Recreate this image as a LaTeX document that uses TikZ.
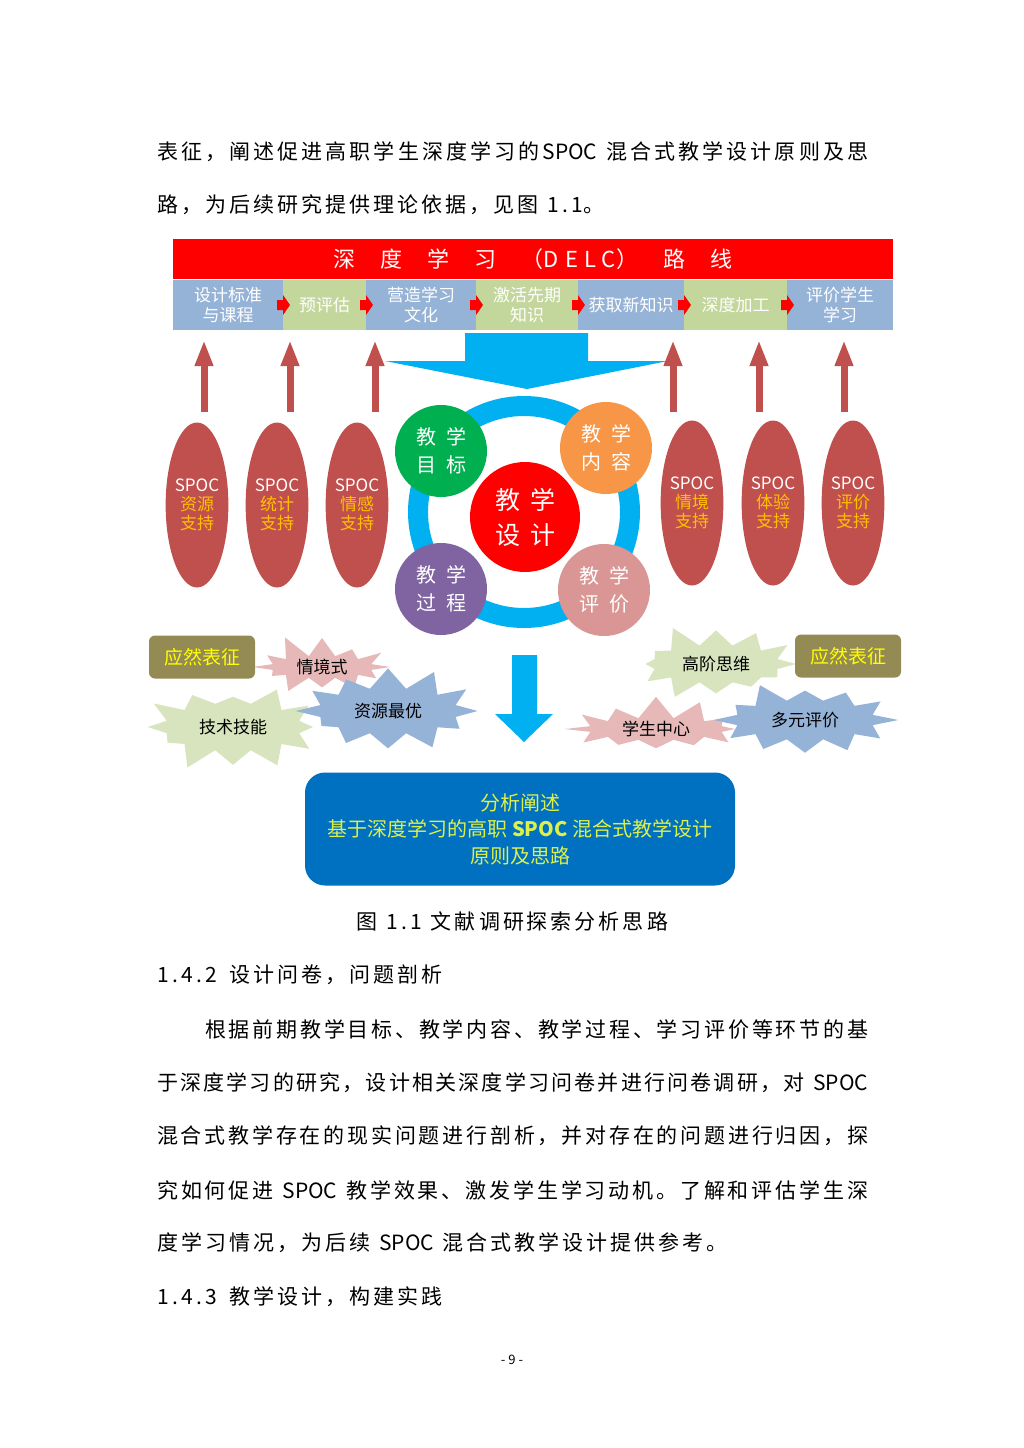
\documentclass[tikz,border=0pt]{standalone}
\usepackage{fontspec}
\setmainfont{Noto Sans CJK SC}
\usetikzlibrary{shapes.geometric,shapes.symbols,arrows.meta}
\makeatletter
\count@="4E00
\loop\ifnum\count@<"A000 \XeTeXcharclass\count@=1 \advance\count@ by 1 \repeat
\makeatother
\XeTeXcharclass"3001=3 \XeTeXcharclass"3002=3 \XeTeXcharclass"FF0C=3
\XeTeXcharclass"FF09=3 \XeTeXcharclass"FF08=2
\newskip\cjksp \cjksp=0pt
\XeTeXinterchartoks 1 1 = {\hskip\cjksp}
\XeTeXinterchartoks 1 2 = {\hskip\cjksp}
\XeTeXinterchartoks 1 3 = {\hskip\cjksp}
\XeTeXinterchartoks 3 1 = {\hskip\cjksp}
\XeTeXinterchartoks 1 0 = {\hskip\cjksp}
\XeTeXinterchartoks 0 1 = {\hskip\cjksp}
\XeTeXinterchartoks 0 3 = {\hskip\cjksp}
\XeTeXinterchartoks 3 0 = {\hskip\cjksp}
\definecolor{hdrred}{HTML}{FF0000}
\definecolor{stepblue}{HTML}{95B3D7}
\definecolor{stepgreen}{HTML}{C3D69B}
\definecolor{arrred}{HTML}{FF0000}
\definecolor{ellred}{HTML}{C0504D}
\definecolor{ellyel}{HTML}{FFC000}
\definecolor{ringblue}{HTML}{00B0F0}
\definecolor{cgreen}{HTML}{00B050}
\definecolor{corange}{HTML}{F79646}
\definecolor{cred}{HTML}{FF0000}
\definecolor{cpurple}{HTML}{8064A2}
\definecolor{cpink}{HTML}{D99694}
\definecolor{olivebox}{HTML}{948A54}
\definecolor{tagyel}{HTML}{FFFF00}
\definecolor{starpink}{HTML}{E6B9B8}
\definecolor{stargreen}{HTML}{D7E4BD}
\definecolor{starblue}{HTML}{95B3D7}
\definecolor{boxblue}{HTML}{0070C0}
\definecolor{boxtext}{HTML}{DDF04A}
\newcommand\bodyfont{\fontsize{21}{21}\selectfont\XeTeXinterchartokenstate=1 \cjksp=3pt plus 1fil minus 2pt\relax}
\newcommand\fsz[2]{\fontsize{#1}{#2}\selectfont}
\newcommand\jline[2]{\makebox[#1pt][s]{#2}}
\newcommand\gp{\hspace{9pt}}
\newcommand\hc[1]{\makebox[12pt]{#1}}
\begin{document}
\begin{tikzpicture}[x=1pt,y=-1pt,
  body/.style={anchor=west, inner sep=0pt, font=\bodyfont},
  stepbox/.style={minimum height=50pt, inner sep=0pt, text=white, font={\fsz{17}{20}}, align=center, anchor=west},
  uparr/.style={draw=ellred, line width=7pt, -{Triangle[width=17pt,length=26pt]}},
  spoc/.style={ellipse, fill=ellred, minimum width=60pt, minimum height=165pt, inner sep=0pt, align=center, text=white, font={\fsz{17}{19}}},
  cir/.style={circle, minimum size=92pt, inner sep=0pt, text=white, align=center, font={\fsz{20}{28}}},
  burst/.style={starburst, starburst points=12, starburst point height=24pt, inner sep=0pt, font={\fsz{17}{20}}, text=black},
  tagbox/.style={rounded corners=6pt, fill=olivebox, text=tagyel, minimum width=106pt, minimum height=43pt, inner sep=0pt, font={\fsz{19}{22}}}
]
\useasboundingbox (0,0) rectangle (1024,1448);
\fill[white] (0,0) rectangle (1024,1448);

% body text above
\node[body] (t1) at (157,152) {\jline{711}{表征，阐述促进高职学生深度学习的SPOC\gp 混合式教学设计原则及思}};
\node[body] (t2) at (157,205) {路，为后续研究提供理论依据，见图\gp\hc{1}\hc{.}\hc{1}。};

% header
\node[fill=hdrred, minimum width=720pt, minimum height=40pt, inner sep=0pt, text=white, font={\fsz{22}{22}}] (hd) at (533,259)
  {深\hspace{25pt}度\hspace{25pt}学\hspace{25pt}习\hspace{25pt}（D\hspace{6pt}E\hspace{6pt}L\hspace{6pt}C）\hspace{25pt}路\hspace{25pt}线};

% steps
\node[stepbox, fill=stepblue,  minimum width=110pt] (s1) at (173,305) {设计标准\\与课程};
\node[stepbox, fill=stepgreen, minimum width=83pt]  (s2) at (283,305) {预评估};
\node[stepbox, fill=stepblue,  minimum width=110pt] (s3) at (366,305) {营造学习\\文化};
\node[stepbox, fill=stepgreen, minimum width=102pt] (s4) at (476,305) {激活先期\\知识};
\node[stepbox, fill=stepblue,  minimum width=106pt] (s5) at (578,305) {获取新知识};
\node[stepbox, fill=stepgreen, minimum width=103pt] (s6) at (684,305) {深度加工};
\node[stepbox, fill=stepblue,  minimum width=106pt] (s7) at (787,305) {评价学生\\学习};
\foreach \xx in {283,366,476,578,684,787}
  \fill[arrred] (\xx-6,300) -- (\xx,300) -- (\xx,295) -- (\xx+7,305) -- (\xx,315) -- (\xx,310) -- (\xx-6,310) -- cycle;

% big blue arrow
\fill[ringblue] (465,333) -- (588,333) -- (588,361) -- (668,361) -- (527,389) -- (385,361) -- (465,361) -- cycle;

% ring and circles
\coordinate (rc) at (524,512);
\draw[ringblue, line width=20pt] (rc) circle (106pt);
\node[cir, fill=cgreen]  (goal) at (441,451) {教\hspace{10pt}学\\目\hspace{10pt}标};
\node[cir, fill=corange] (cont) at (606,448) {教\hspace{10pt}学\\内\hspace{10pt}容};
\node[cir, fill=cpurple] (proc) at (441,589) {教\hspace{10pt}学\\过\hspace{10pt}程};
\node[cir, fill=cpink]   (eval) at (604,590) {教\hspace{10pt}学\\评\hspace{10pt}价};
\node[cir, fill=cred, minimum size=110pt, font={\fsz{25}{35}}] (des) at (525,517) {教\hspace{10pt}学\\设\hspace{10pt}计};

% SPOC ellipses
\node[spoc] (e1) at (197,505) {SPOC\\\textcolor{ellyel}{资源}\\\textcolor{ellyel}{支持}};
\node[spoc] (e2) at (277,505) {SPOC\\\textcolor{ellyel}{统计}\\\textcolor{ellyel}{支持}};
\node[spoc] (e3) at (357,505) {SPOC\\\textcolor{ellyel}{情感}\\\textcolor{ellyel}{支持}};
\node[spoc] (e4) at (692,503) {SPOC\\\textcolor{ellyel}{情境}\\\textcolor{ellyel}{支持}};
\node[spoc] (e5) at (773,503) {SPOC\\\textcolor{ellyel}{体验}\\\textcolor{ellyel}{支持}};
\node[spoc] (e6) at (853,503) {SPOC\\\textcolor{ellyel}{评价}\\\textcolor{ellyel}{支持}};

% up arrows
\foreach \xx/\nm in {204/a1,290/a2,375/a3,673/a4,759/a5,844/a6}{
  \coordinate (\nm b) at (\xx,412);
  \coordinate (\nm t) at (\xx,340);
  \draw[uparr] (\nm b) -- (\nm t);
}

% starbursts left
\node[burst, fill=starpink,  minimum width=150pt, minimum height=66pt, random starburst=11] (b1) at (322,667) {情境式};
\node[burst, fill=stargreen, minimum width=185pt, minimum height=96pt, random starburst=23] (b2) at (233,727) {技术技能};
\node[burst, fill=starblue,  minimum width=188pt, minimum height=94pt, random starburst=37] (b3) at (388,711) {资源最优};
\node[tagbox] (tg1) at (202,657) {应然表征};
% starbursts right
\node[burst, fill=stargreen, minimum width=175pt, minimum height=86pt, random starburst=5]  (b4) at (716,664) {高阶思维};
\node[burst, fill=starpink,  minimum width=184pt, minimum height=62pt, random starburst=17] (b5) at (656,729) {学生中心};
\node[burst, fill=starblue,  minimum width=188pt, minimum height=88pt, random starburst=29] (b6) at (805,720) {多元评价};
\node[tagbox] (tg2) at (848,656) {应然表征};

% down arrow
\fill[ringblue] (512,655) -- (537,655) -- (537,714) -- (553,714) -- (524,742) -- (495,714) -- (512,714) -- cycle;

% result box
\node[rounded corners=20pt, fill=boxblue, text=boxtext, minimum width=430pt, minimum height=113pt, inner sep=0pt, align=center, font={\fsz{20}{26.5}}] (res) at (520,829)
  {分析阐述\\基于深度学习的高职 \textbf{SPOC} 混合式教学设计\\原则及思路};

% caption and following text
\node[anchor=center, inner sep=0pt, font=\bodyfont] (cap) at (512,921) {图\gp\hc{1}\hc{.}\hc{1}\gp 文献调研探索分析思路};
\node[body] (h1) at (157,975) {\hc{1}\hc{.}\hc{4}\hc{.}\hc{2}\hspace{12pt}设计问卷，问题剖析};
\node[body] (p1) at (205,1029) {\jline{663}{根据前期教学目标、教学内容、教学过程、学习评价等环节的基}};
\node[body] (p2) at (157,1083) {\jline{711}{于深度学习的研究，设计相关深度学习问卷并进行问卷调研，对\gp SPOC}};
\node[body] (p3) at (157,1136) {\jline{711}{混合式教学存在的现实问题进行剖析，并对存在的问题进行归因，探}};
\node[body] (p4) at (157,1190) {\jline{711}{究如何促进\gp SPOC\gp 教学效果、激发学生学习动机。了解和评估学生深}};
\node[body] (p5) at (157,1243) {度学习情况，为后续\gp SPOC\gp 混合式教学设计提供参考。};
\node[body] (h2) at (157,1297) {\hc{1}\hc{.}\hc{4}\hc{.}\hc{3}\hspace{12pt}教学设计，构建实践};
\node[inner sep=0pt, font={\fsz{13}{13}}] (pg) at (512,1360) {- 9 -};
\end{tikzpicture}
\end{document}
